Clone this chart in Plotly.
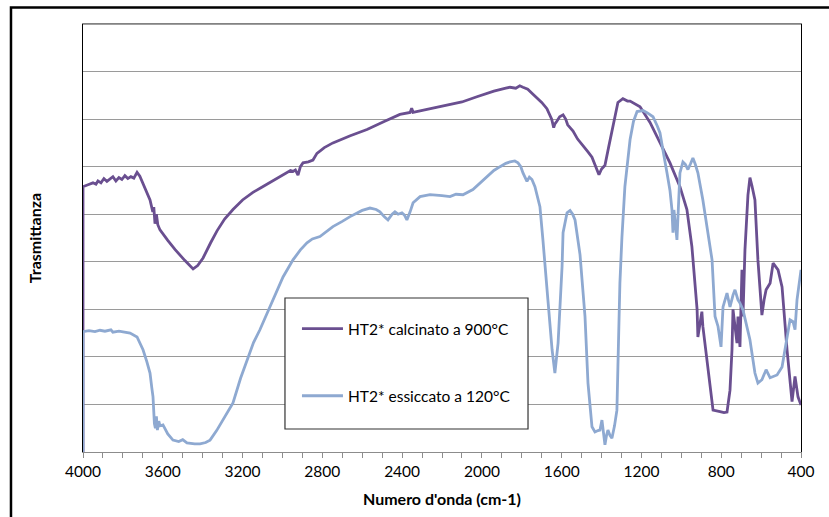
import plotly.graph_objects as go

# ---- data (wavenumber cm-1, transmittance arbitrary units) ----
wn_calc = [4000, 4000, 3975, 3950, 3935, 3925, 3910, 3895, 3880, 3865, 3850, 3835, 3820, 3805,
           3790, 3775, 3760, 3745, 3729, 3715, 3700, 3689, 3675, 3664, 3650, 3645, 3639, 3632,
           3625, 3614, 3575, 3539, 3490, 3448, 3425, 3398, 3360, 3328, 3290, 3248, 3200, 3148,
           3110, 3077, 3020, 2977, 2960, 2947, 2935, 2922, 2910, 2897, 2870, 2847, 2827, 2790,
           2747, 2660, 2576, 2490, 2411, 2360, 2352, 2345, 2300, 2195, 2100, 2025, 1940, 1880,
           1859, 1830, 1810, 1794, 1770, 1745, 1724, 1700, 1674, 1650, 1640, 1634, 1625, 1610,
           1593, 1580, 1570, 1543, 1520, 1493, 1470, 1448, 1425, 1413, 1400, 1383, 1365, 1343,
           1330, 1318, 1293, 1270, 1257, 1207, 1157, 1107, 1057, 1007, 972, 947, 942, 927, 921,
           917, 897, 892, 871, 841, 806, 786, 771, 756, 746, 741, 721, 716, 706, 696, 691, 681,
           666, 656, 646, 631, 616, 606, 596, 585, 575, 555, 540, 515, 495, 470, 445, 430, 415, 400]
tr_calc = [0, 55.8, 56.2, 56.6, 56.3, 57.0, 56.6, 57.5, 56.9, 57.4, 57.9, 57.0, 57.7, 57.3,
           58.1, 57.5, 57.9, 57.6, 58.8, 58.0, 56.5, 55.5, 54.0, 53.0, 50.5, 51.5, 48.0, 50.0,
           47.8, 46.7, 44.5, 42.6, 40.3, 38.5, 39.2, 40.8, 44.0, 46.5, 49.0, 51.0, 53.0, 54.6,
           55.5, 56.3, 57.8, 58.7, 59.2, 59.0, 59.3, 58.2, 60.0, 60.8, 61.0, 61.4, 62.8, 64.0,
           65.0, 66.5, 67.8, 69.5, 71.0, 71.4, 72.3, 71.4, 71.8, 72.6, 73.6, 74.7, 75.9, 76.5,
           76.7, 76.5, 77.0, 76.7, 76.3, 75.3, 74.5, 73.5, 72.2, 70.0, 68.2, 69.0, 69.5, 70.5,
           70.9, 70.0, 68.8, 67.5, 65.8, 64.5, 63.2, 62.0, 59.8, 58.3, 59.5, 60.3, 64.0, 68.4,
           71.5, 73.5, 74.3, 73.8, 73.8, 72.6, 69.3, 65.0, 60.8, 55.8, 51.0, 43.2, 40.4, 32.0, 30.0,
           24.2, 29.5, 26.4, 19.4, 8.8, 8.5, 8.3, 8.4, 13.0, 21.5, 30.0, 22.9, 28.5, 22.1, 38.3, 28.5, 42.5,
           54.0, 57.7, 56.0, 53.0, 40.4, 35.5, 28.8, 32.0, 34.1, 35.5, 39.7, 38.3, 34.7, 21.5, 10.6, 15.9, 11.6, 9.9]

wn_ess = [4000, 4000, 3970, 3940, 3915, 3890, 3860, 3850, 3820, 3790, 3764, 3729, 3699, 3680,
          3664, 3655, 3649, 3642, 3637, 3632, 3627, 3620, 3614, 3599, 3575, 3549, 3520, 3500,
          3479, 3440, 3413, 3385, 3363, 3330, 3298, 3270, 3248, 3210, 3178, 3145, 3113, 3062,
          2997, 2947, 2910, 2877, 2850, 2812, 2790, 2747, 2700, 2661, 2600, 2561, 2530, 2511,
          2490, 2471, 2450, 2436, 2420, 2401, 2388, 2376, 2360, 2345, 2310, 2260, 2200, 2160,
          2130, 2095, 2045, 2010, 1974, 1940, 1909, 1880, 1859, 1835, 1819, 1805, 1794, 1774,
          1762, 1749, 1734, 1709, 1694, 1684, 1669, 1648, 1634, 1618, 1598, 1593, 1573, 1558,
          1545, 1533, 1508, 1483, 1468, 1448, 1433, 1418, 1408, 1398, 1390, 1383, 1375, 1368,
          1358, 1348, 1335, 1323, 1318, 1308, 1298, 1283, 1257, 1240, 1222, 1192, 1170, 1142,
          1120, 1107, 1090, 1082, 1072, 1057, 1047, 1042, 1037, 1030, 1022, 1007, 992, 980,
          967, 955, 942, 930, 917, 892, 867, 846, 831, 816, 801, 791, 771, 756, 741, 731, 716,
          706, 691, 656, 631, 616, 596, 575, 555, 520, 495, 480, 455, 440, 430, 420, 400]
tr_ess = [0, 25.3, 25.5, 25.3, 25.6, 25.4, 25.7, 25.2, 25.4, 25.2, 25.0, 24.2, 21.5, 19.0,
          16.6, 13.5, 11.6, 6.0, 5.0, 7.5, 4.6, 6.5, 5.5, 5.7, 3.8, 2.5, 2.2, 2.6,
          1.9, 1.7, 1.7, 2.0, 2.5, 4.5, 6.7, 8.8, 10.3, 15.5, 19.4, 23.0, 25.7, 30.5,
          36.8, 40.4, 42.5, 44.0, 44.8, 45.3, 46.0, 47.4, 48.5, 49.5, 50.8, 51.3, 51.0, 50.5,
          49.5, 48.8, 50.0, 50.5, 50.0, 50.3, 49.8, 48.8, 50.5, 52.4, 53.7, 54.1, 53.9, 53.7,
          54.2, 54.1, 55.2, 56.5, 58.0, 59.2, 60.0, 60.7, 61.0, 61.2, 60.8, 60.0, 58.7, 56.9,
          57.8, 57.3, 55.8, 51.6, 44.6, 40.0, 32.0, 21.5, 16.6, 22.9, 39.0, 46.1, 50.3, 50.8,
          50.0, 48.8, 41.5, 28.5, 14.5, 5.3, 4.2, 4.5, 4.6, 6.7, 4.0, 1.5, 3.5, 4.6,
          3.5, 2.9, 5.5, 8.8, 17.9, 35.5, 45.0, 55.8, 65.7, 69.5, 71.6, 71.8, 71.3, 70.5,
          68.5, 67.1, 63.0, 60.8, 58.7, 55.0, 50.9, 46.1, 50.9, 48.0, 44.6, 58.7, 61.0, 60.5,
          59.4, 60.5, 61.8, 60.5, 58.7, 53.0, 46.1, 40.4, 28.5, 26.4, 22.1, 30.5, 33.4, 30.5, 33.0, 34.1, 32.0,
          31.3, 29.9, 23.6, 16.6, 14.5, 15.2, 17.3, 15.6, 16.2, 17.9, 21.5, 27.8, 27.4, 25.7, 32.0, 38.3]

series_names = ["HT2* calcinato a 900°C", "HT2* essiccato a 120°C"]
series_colors = ["#6A4F90", "#8EA9D1"]
x_tick_vals = [4000, 3600, 3200, 2800, 2400, 2000, 1600, 1200, 800, 400]
x_title = "Numero d'onda (cm-1)"
y_title = "Trasmittanza"

FONT = "Lato, 'Open Sans', sans-serif"

fig = go.Figure()
fig.add_trace(go.Scatter(x=wn_calc, y=tr_calc, mode="lines", name=series_names[0],
                         legendgroup="a", line=dict(color=series_colors[0], width=2.8)))
fig.add_trace(go.Scatter(x=wn_ess, y=tr_ess, mode="lines", name=series_names[1],
                         legendgroup="b", line=dict(color=series_colors[1], width=2.8)))

fig.update_layout(
    width=829, height=517,
    margin=dict(l=83, r=28, t=24, b=65, autoexpand=False),
    paper_bgcolor="white", plot_bgcolor="white",
    font=dict(family=FONT, size=15, color="black"),
    showlegend=True,
    legend=dict(x=0.298, y=0.327, xanchor="left", yanchor="top",
                bgcolor="rgba(0,0,0,0)", borderwidth=0,
                traceorder="grouped", tracegroupgap=44, itemwidth=41,
                font=dict(family=FONT, size=15.5, color="black")),
    xaxis=dict(range=[4000, 400], tickvals=x_tick_vals, ticks="outside", ticklen=5,
               tickcolor="#8c8c8c", showgrid=False, zeroline=False,
               showline=True, linecolor="#8c8c8c", linewidth=1, mirror=True,
               minor=dict(dtick=100, ticks="outside", ticklen=5, tickcolor="#8c8c8c", showgrid=False),
               tickfont=dict(family=FONT, size=15.5),
               title=dict(text="<b>" + x_title + "</b>", font=dict(family=FONT, size=16), standoff=15)),
    yaxis=dict(range=[0, 90], dtick=10, showticklabels=False, ticks="",
               showgrid=True, gridcolor="#9a9a9a", gridwidth=1, zeroline=False,
               showline=True, linecolor="black", linewidth=1.3, mirror=True,
               title=dict(text="<b>" + y_title + "</b>", font=dict(family=FONT, size=16), standoff=36)),
    shapes=[
        # legend box
        dict(type="rect", xref="paper", yref="paper", x0=0.2813, x1=0.6198, y0=0.0537, y1=0.3598,
             line=dict(color="#333333", width=1.2), fillcolor="white", layer="above"),
        # outer chart border (left and top visible)
        dict(type="rect", xref="paper", yref="paper", x0=-0.1003, x1=1.06, y0=-0.2, y1=1.0386,
             line=dict(color="black", width=2.5), fillcolor="rgba(0,0,0,0)", layer="above"),
    ],
)
# keep top border gray
fig.add_shape(type="line", xref="paper", yref="paper", x0=0, x1=1, y0=1, y1=1,
              line=dict(color="#7f7f7f", width=1.3), layer="above")

fig.write_html("out.html", config={"displayModeBar": False},
               post_script="document.body.style.margin='0px';")
